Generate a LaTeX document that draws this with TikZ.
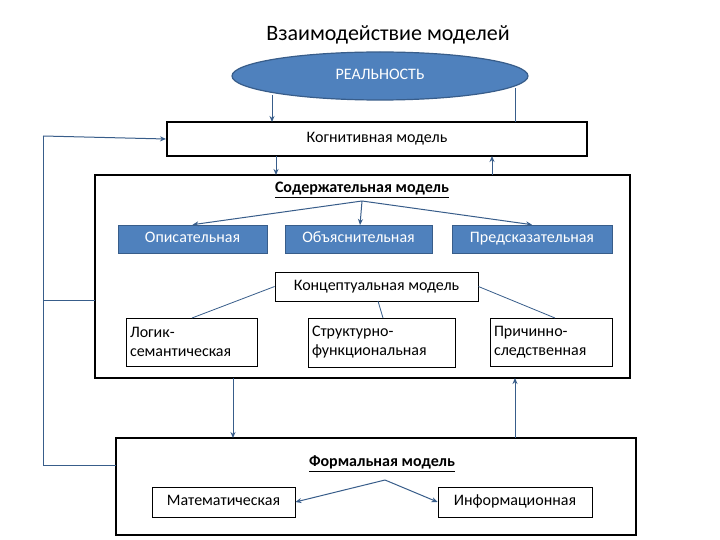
\documentclass[tikz,border=0pt]{standalone}
\usepackage{fontspec}
\setmainfont{Carlito}
\usetikzlibrary{shapes.geometric,arrows.meta}
\definecolor{bl}{HTML}{4F81BD}
\definecolor{bld}{HTML}{385D8A}
\begin{document}
\begin{tikzpicture}[x=1pt,y=-1pt,
  big/.style={draw=black,line width=2pt,inner sep=0},
  sm/.style={draw=black,line width=0.8pt,inner sep=0},
  bbox/.style={draw=bld,fill=bl,line width=0.6pt,inner sep=0,text=white},
  arr/.style={draw=bld,line width=1pt,-{Stealth[length=6pt,width=5pt]}},
  ln/.style={draw=bld,line width=0.8pt},
  lbl/.style={font=\fontsize{16}{19}\selectfont,text height=11pt,text depth=3.5pt}]
\useasboundingbox (0,0) rectangle (720,540);
\fill[white] (0,0) rectangle (720,540);
\node[font=\fontsize{22}{26}\selectfont] (title) at (388,35) {Взаимодействие моделей};
\node[ellipse,draw=bld,fill=bl,line width=1.2pt,minimum width=296,minimum height=48,text=white,lbl] (real) at (380,76) {РЕАЛЬНОСТЬ};
\node[big,minimum width=420,minimum height=34,lbl] (cog) at (377,139) {Когнитивная модель};
\node[big,minimum width=535,minimum height=203] (cont) at (362.5,276.5) {};
\node[lbl,font=\bfseries\fontsize{16}{19}\selectfont] (ctitle) at (362,189) {\underline{Содержательная модель}};
\node[bbox,minimum width=149,minimum height=28,lbl] (op) at (192.5,239) {Описательная};
\node[bbox,minimum width=147,minimum height=28,lbl] (ob) at (358.5,239) {Объяснительная};
\node[bbox,minimum width=160,minimum height=28,lbl] (pr) at (532,239) {Предсказательная};
\node[sm,minimum width=203,minimum height=29,lbl] (conc) at (376.5,286.5) {Концептуальная модель};
\node[sm,minimum width=131,minimum height=48,lbl,align=left,text width=123,text height=,text depth=] (lg) at (191.5,342) {Логик-\\семантическая};
\node[sm,minimum width=147,minimum height=49,lbl,align=left,text width=139,text height=,text depth=] (st) at (381.5,342.5) {Структурно-\\функциональная};
\node[sm,minimum width=122,minimum height=48,lbl,align=left,text width=114,text height=,text depth=] (pc) at (551,342) {Причинно-\\следственная};
\node[big,minimum width=520,minimum height=97] (form) at (376,486.5) {};
\node[lbl,font=\bfseries\fontsize{16}{19}\selectfont] (ftitle) at (382,463) {\underline{Формальная модель}};
\node[sm,minimum width=143,minimum height=30,lbl] (mat) at (223.5,502) {Математическая};
\node[sm,minimum width=154,minimum height=30,lbl] (inf) at (515,502) {Информационная};
\coordinate (fc) at (385,480);
\coordinate (cc) at (362,201);
\draw[arr] (272,95) -- (272,122);
\draw[ln] (515,122) -- (515,88);
\draw[arr] (276,156) -- (276,175);
\draw[arr] (492,175) -- (492,156);
\draw[arr] (cc) -- (op.north);
\draw[arr] (cc) -- (360,225);
\draw[arr] (cc) -- (pr.north);
\draw[ln] (conc.west) -- (192,318);
\draw[ln] (378,301) -- (383,318);
\draw[ln] (conc.east) -- (555,318);
\draw[arr] (233,378) -- (233,438);
\draw[arr] (515,438) -- (515,378);
\draw[arr] (fc) -- (mat.east);
\draw[arr] (fc) -- (inf.west);
\draw[ln] (116,465) -- (43,465) -- (43,136);
\draw[arr] (43,136) -- (cog.west);
\draw[ln] (95,300) -- (43,300);
\end{tikzpicture}
\end{document}
